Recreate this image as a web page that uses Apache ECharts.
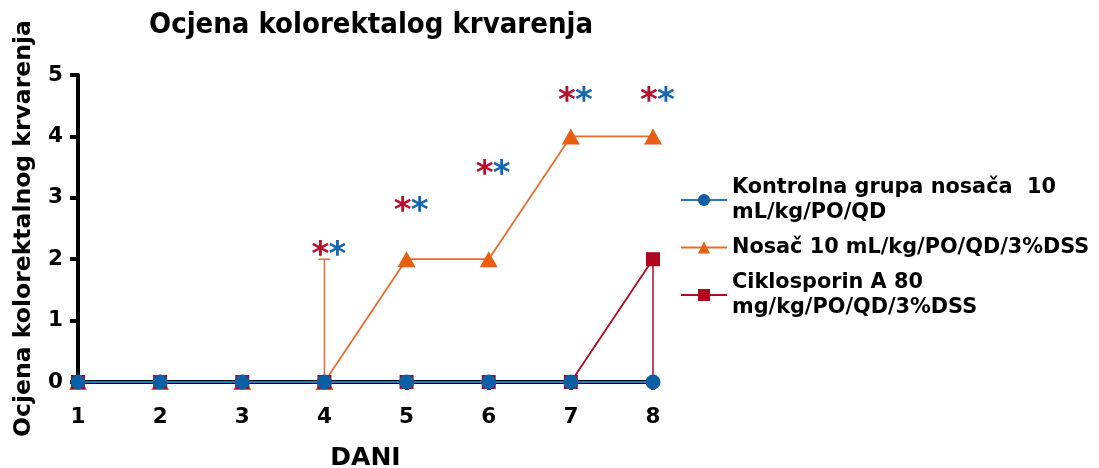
<!DOCTYPE html>
<html>
<head>
<meta charset="utf-8">
<script src="https://cdn.jsdelivr.net/npm/echarts@6/dist/echarts.min.js"></script>
<style>
  html, body { margin: 0; padding: 0; background: #fff; }
  #chart { width: 1099px; height: 468px; }
</style>
</head>
<body>
<div id="chart"></div>
<script>
// dani (x) i ocjene po grupama
const days = [1, 2, 3, 4, 5, 6, 7, 8]
const kontrola = [0, 0, 0, 0, 0, 0, 0, 0]
const nosac = [0, 0, 0, 0, 2, 2, 4, 4]
const ciklosporin = [0, 0, 0, 0, 0, 0, 0, 2]
// error bars: [day, mean, end]
const nosacErr = [[4, 0, 2]]
const cikloErr = [[8, 2, 0]]
// significance stars: [day, height]
const stars = [[4, 2.17], [5, 2.88], [6, 3.49], [7, 4.67], [8, 4.67]]
const yTicks = [0, 1, 2, 3, 4, 5]

const names = [
  'Kontrolna grupa nosača  10\nmL/kg/PO/QD',
  'Nosač 10 mL/kg/PO/QD/3%DSS',
  'Ciklosporin A 80\nmg/kg/PO/QD/3%DSS'
]
const FONT = 'DejaVu Sans'

const pair = (xs, ys) => xs.map((x, i) => [x, ys[i]])

function errItem (color) {
  return function (params, api) {
    const x = api.value(0)
    const p0 = api.coord([x, api.value(1)])
    const p1 = api.coord([x, api.value(2)])
    return {
      type: 'group',
      children: [
        { type: 'line', shape: { x1: p0[0], y1: p0[1], x2: p1[0], y2: p1[1] }, style: { stroke: color, lineWidth: 1.5 } },
        { type: 'line', shape: { x1: p1[0] - 6, y1: p1[1], x2: p1[0] + 6, y2: p1[1] }, style: { stroke: color, lineWidth: 1.5 } }
      ]
    }
  }
}

const chart = echarts.init(document.getElementById('chart'))
chart.setOption({
  animation: false,
  title: {
    text: 'Ocjena kolorektalog krvarenja',
    left: 144,
    top: 6,
    textStyle: { fontFamily: 'DejaVu Sans Condensed', fontWeight: 'bold', fontSize: 29, color: '#000' }
  },
  grid: { left: 78, right: 446, top: 75, bottom: 86, outerBoundsMode: 'none', containLabel: false },
  legend: {
    orient: 'vertical',
    left: 675,
    top: 170,
    itemWidth: 46,
    itemHeight: 15,
    itemGap: 10,
    data: names,
    textStyle: { fontFamily: FONT, fontWeight: 'bold', fontSize: 20.8, color: '#000', lineHeight: 25 }
  },
  xAxis: {
    type: 'value',
    min: 1,
    max: 8,
    interval: 1,
    name: 'DANI',
    nameLocation: 'middle',
    nameGap: 64,
    nameTextStyle: { fontFamily: FONT, fontWeight: 'bold', fontSize: 25, color: '#000' },
    axisLine: { onZero: false, lineStyle: { color: '#000', width: 4 } },
    axisTick: { length: 8, lineStyle: { color: '#000', width: 4 } },
    axisLabel: { fontFamily: FONT, fontWeight: 'bold', fontSize: 21.5, color: '#000', margin: 24 },
    splitLine: { show: false }
  },
  yAxis: {
    type: 'value',
    min: yTicks[0],
    max: yTicks[yTicks.length - 1],
    interval: 1,
    name: 'Ocjena kolorektalnog krvarenja',
    nameLocation: 'middle',
    nameGap: 42,
    nameTextStyle: { fontFamily: FONT, fontWeight: 'bold', fontSize: 23.5, color: '#000' },
    axisLine: { show: true, lineStyle: { color: '#000', width: 4 } },
    axisTick: { show: true, length: 8, lineStyle: { color: '#000', width: 4 } },
    axisLabel: { fontFamily: FONT, fontWeight: 'bold', fontSize: 21.5, color: '#000', margin: 15 },
    splitLine: { show: false }
  },
  series: [
    {
      type: 'custom',
      z: 1,
      renderItem: errItem('#ee6a2c'),
      data: nosacErr,
      encode: { x: 0, y: 1 },
      silent: true
    },
    {
      type: 'custom',
      z: 1,
      renderItem: errItem('#b3081f'),
      data: cikloErr,
      encode: { x: 0, y: 1 },
      silent: true
    },
    {
      name: names[1],
      type: 'line',
      z: 2,
      data: pair(days, nosac),
      symbol: 'triangle',
      symbolSize: [18, 16],
      itemStyle: { color: '#e85e12' },
      lineStyle: { color: '#ee6a2c', width: 1.8 }
    },
    {
      name: names[2],
      type: 'line',
      z: 3,
      data: pair(days, ciklosporin),
      symbol: 'rect',
      symbolSize: 14,
      itemStyle: { color: '#b0061d' },
      lineStyle: { color: '#b3081f', width: 1.8 }
    },
    {
      name: names[0],
      type: 'line',
      z: 4,
      data: pair(days, kontrola),
      symbol: 'circle',
      symbolSize: 15,
      itemStyle: { color: '#0b5fa5' },
      lineStyle: { color: '#2a77c0', width: 2 }
    },
    {
      type: 'custom',
      z: 5,
      silent: true,
      data: stars,
      encode: { x: 0, y: 1 },
      renderItem: function (params, api) {
        const p = api.coord([api.value(0), api.value(1)])
        const st = { fontFamily: FONT, fontWeight: 'bold', fontSize: 34, align: 'center', verticalAlign: 'middle' }
        return {
          type: 'group',
          children: [
            { type: 'text', x: p[0] - 4, y: p[1] + 7, style: Object.assign({ text: '*', fill: '#b5112e' }, st) },
            { type: 'text', x: p[0] + 13, y: p[1] + 7, style: Object.assign({ text: '*', fill: '#1566b0' }, st) }
          ]
        }
      }
    }
  ]
})
</script>
</body>
</html>
